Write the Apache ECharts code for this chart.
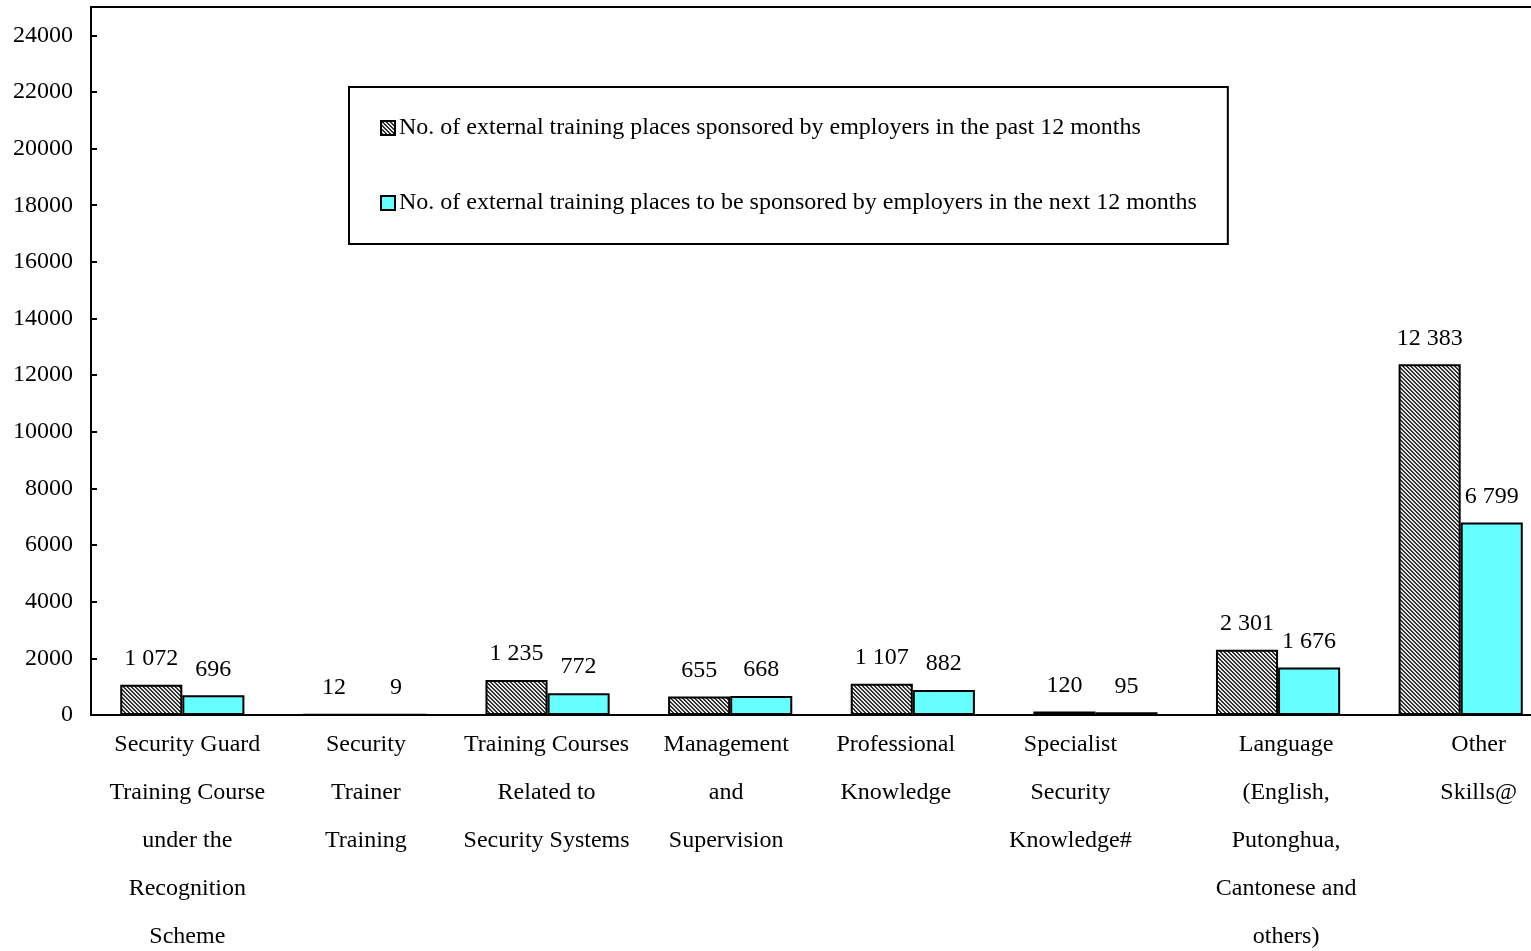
<!DOCTYPE html>
<html>
<head>
<meta charset="utf-8">
<title>External training places sponsored by employers</title>
<script src="https://cdn.jsdelivr.net/npm/echarts@6/dist/echarts.min.js"></script>
<style>
  html, body { margin: 0; padding: 0; background: #fff; overflow: hidden; }
  #chart { width: 1531px; height: 951px; }
</style>
</head>
<body>
<div id="chart"></div>
<script>
// Training categories (line breaks as printed under the axis)
const categories = [
  'Security Guard\nTraining Course\nunder the\nRecognition\nScheme',
  'Security\nTrainer\nTraining',
  'Training Courses\nRelated to\nSecurity Systems',
  'Management\nand\nSupervision',
  'Professional\nKnowledge',
  'Specialist\nSecurity\nKnowledge#',
  'Language\n(English,\nPutonghua,\nCantonese and\nothers)',
  'Other\nSkills@'
];

const seriesNames = [
  'No. of external training places sponsored by employers in the past 12 months',
  'No. of external training places to be sponsored by employers in the next 12 months'
];

// Places sponsored in the past 12 months
const pastPlaces = [1072, 12, 1235, 655, 1107, 120, 2301, 12383];
// Places to be sponsored in the next 12 months
const nextPlaces = [696, 9, 772, 668, 882, 95, 1676, 6799];

const yMax = 25000;
const yInterval = 2000;

const FONT = '"Liberation Serif", "Times New Roman", serif';

// Horizontal nudge (px) of each category label from its band centre
const labelNudge = [5, 1, -1, -4, -17, -25, 8, 18];

// Fine diagonal hatch used for the past-12-months bars
function hatchPattern() {
  const n = 4;
  const c = document.createElement('canvas');
  c.width = n; c.height = n;
  const g = c.getContext('2d');
  g.fillStyle = '#e8e8e8';
  g.fillRect(0, 0, n, n);
  g.fillStyle = '#303030';
  for (let y = 0; y < n; y++) {
    g.fillRect(y % n, y, 1, 1);
    g.fillRect((y + 1) % n, y, 1, 1);
  }
  return c;
}

// Numbers printed with a space as thousands separator
function spaced(v) {
  return String(v).replace(/\B(?=(\d{3})+(?!\d))/g, ' ');
}

const el = document.getElementById('chart');
const chart = echarts.init(el, null, { renderer: 'canvas', width: 1531, height: 951 });

const valueLabel = {
  show: true,
  position: 'top',
  distance: 14,
  color: '#000',
  fontFamily: FONT,
  fontSize: 24,
  formatter: p => spaced(p.value)
};

const categoryItems = categories.map((name, i) => {
  const d = labelNudge[i];
  return {
    value: name,
    textStyle: { padding: d >= 0 ? [0, 0, 0, 2 * d] : [0, -2 * d, 0, 0] }
  };
});

chart.setOption({
  animation: false,
  backgroundColor: '#ffffff',
  textStyle: { fontFamily: FONT, color: '#000' },
  grid: {
    left: 91, width: 1461, top: 7, height: 708,
    outerBoundsMode: 'none',
    show: true, borderColor: '#000', borderWidth: 2,
    containLabel: false
  },
  legend: {
    orient: 'vertical',
    left: 349, top: 87,
    padding: [29, 31, 29, 31],
    itemGap: 51,
    itemWidth: 14, itemHeight: 14,
    icon: 'rect',
    borderColor: '#000', borderWidth: 2,
    backgroundColor: '#fff',
    textStyle: { fontFamily: FONT, fontSize: 24, color: '#000', padding: [0, 0, 0, -1] },
    data: seriesNames
  },
  xAxis: {
    type: 'category',
    data: categoryItems,
    axisLine: { lineStyle: { color: '#000', width: 2 } },
    axisTick: { show: false },
    axisLabel: {
      interval: 0,
      margin: 6,
      color: '#000',
      fontFamily: FONT,
      fontSize: 24,
      lineHeight: 48
    }
  },
  yAxis: {
    type: 'value',
    min: 0, max: yMax, interval: yInterval,
    splitLine: { show: false },
    axisLine: { show: true, lineStyle: { color: '#000', width: 2 } },
    axisTick: { show: true, inside: true, length: 6, lineStyle: { color: '#000', width: 2 } },
    axisLabel: {
      margin: 18,
      color: '#000',
      fontFamily: FONT,
      fontSize: 24,
      formatter: v => (v % yInterval === 0 ? String(v) : '')
    }
  },
  series: [
    {
      name: seriesNames[0],
      type: 'bar',
      data: pastPlaces,
      barWidth: '34%',
      barGap: '0%',
      itemStyle: {
        color: { image: hatchPattern(), repeat: 'repeat' },
        borderColor: '#000', borderWidth: 2
      },
      label: valueLabel
    },
    {
      name: seriesNames[1],
      type: 'bar',
      data: nextPlaces,
      barWidth: '34%',
      barGap: '0%',
      itemStyle: { color: '#66ffff', borderColor: '#000', borderWidth: 2 },
      label: valueLabel
    }
  ]
});
</script>
</body>
</html>
